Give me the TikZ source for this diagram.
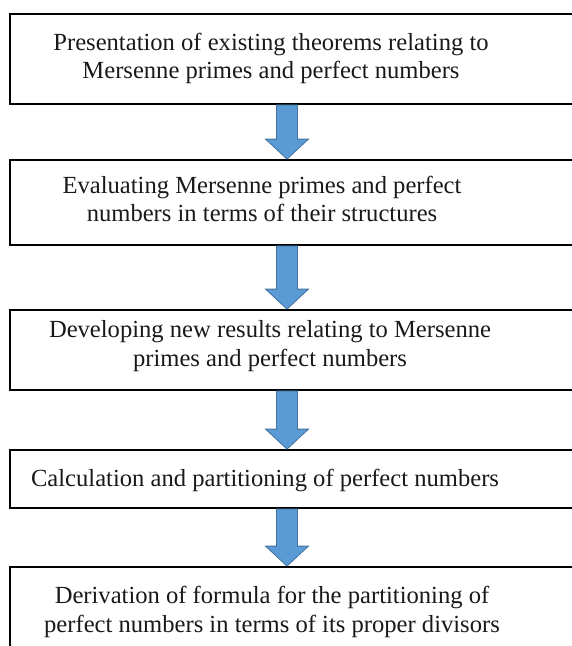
\documentclass[tikz,border=0pt]{standalone}
\usepackage{fontspec}
\setmainfont{Liberation Serif}
\usetikzlibrary{calc}
\definecolor{arrowfill}{HTML}{5B9BD5}
\definecolor{arrowline}{HTML}{41719C}
\newcommand\blkarrow[2]{%
  \draw[barrow] ($(#1.south -| ax)+(-10.5,0)$) -- ($(#2.north -| ax)+(-10.5,-20)$)
    -- ($(#2.north -| ax)+(-21.5,-20)$) -- (#2.north -| ax)
    -- ($(#2.north -| ax)+(21.5,-20)$) -- ($(#2.north -| ax)+(10.5,-20)$)
    -- ($(#1.south -| ax)+(10.5,0)$) -- cycle;}
\begin{document}
\begin{tikzpicture}[x=1pt,y=-1pt,
  stagebox/.style={draw=black, line width=1.8pt, minimum width=580pt, inner sep=0pt},
  stagetext/.style={align=center, font=\fontsize{24.6}{28.5}\selectfont, text=black!90, inner sep=0pt},
  barrow/.style={fill=arrowfill, draw=arrowline, line width=0.8pt, line join=miter}]
\useasboundingbox (0,0) rectangle (572,646);
\clip (0,0) rectangle (572,646);
\coordinate (ax) at (287,0);
% boxes
\node[stagebox, minimum height=90pt] (b1) at (300,59) {};
\node[stagebox, minimum height=85pt] (b2) at (300,202.5) {};
\node[stagebox, minimum height=80pt] (b3) at (300,350) {};
\node[stagebox, minimum height=58pt] (b4) at (300,479) {};
\node[stagebox, minimum height=96pt] (b5) at (300,615) {};
% texts
\node[stagetext] (t1) at (271,58.5) {Presentation of existing theorems relating to\\Mersenne primes and perfect numbers};
\node[stagetext] (t2) at (262,199) {Evaluating Mersenne primes and perfect\\numbers in terms of their structures};
\node[stagetext] (t3) at (270,346) {Developing new results relating to Mersenne\\primes and perfect numbers};
\node[stagetext] (t4) at (265,480) {Calculation and partitioning of perfect numbers};
\node[stagetext] (t5) at (272,612) {Derivation of formula for the partitioning of\\perfect numbers in terms of its proper divisors};
% arrows
\blkarrow{b1}{b2}
\blkarrow{b2}{b3}
\blkarrow{b3}{b4}
\blkarrow{b4}{b5}
\end{tikzpicture}
\end{document}
